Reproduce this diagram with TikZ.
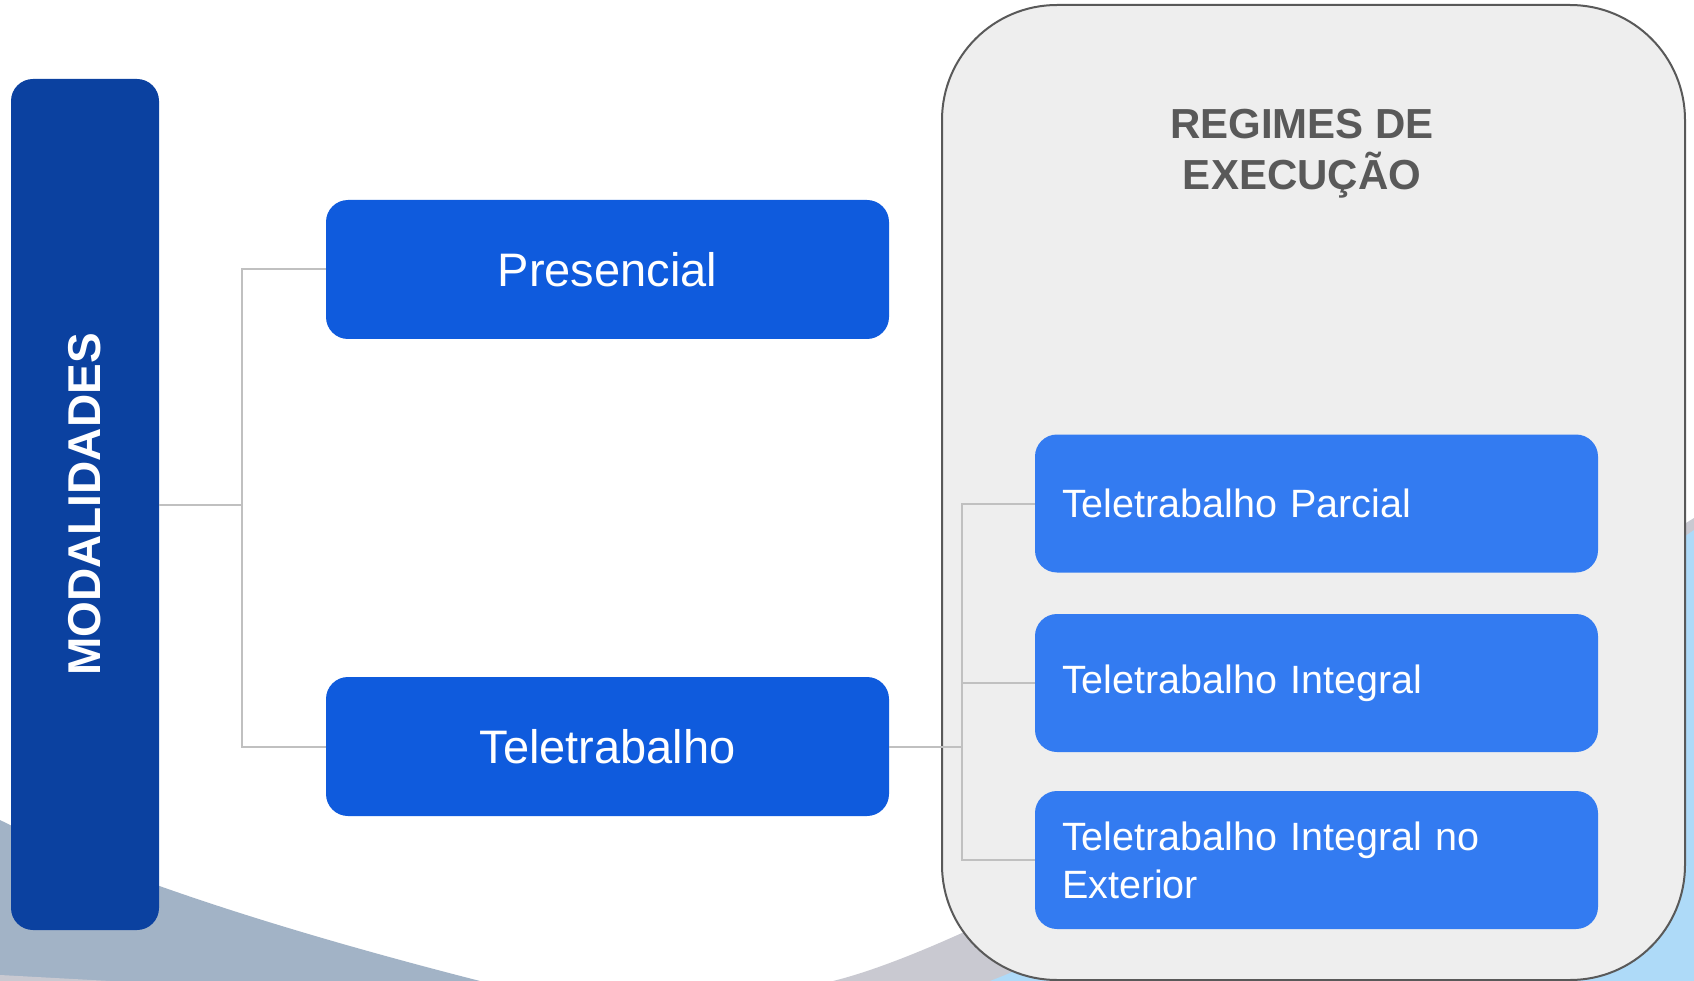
\documentclass[tikz,border=0pt]{standalone}
\usepackage{fontspec}
\setmainfont{Liberation Sans}
\usepackage{graphicx}

\definecolor{azulesc}{HTML}{0B41A0}
\definecolor{azul}{HTML}{0F5BDD}
\definecolor{azulcl}{HTML}{337BF1}
\definecolor{cinzafd}{HTML}{EEEEEE}
\definecolor{cinzabd}{HTML}{595959}
\definecolor{linha}{HTML}{C0C0C0}
\definecolor{onda}{HTML}{A2B3C6}
\definecolor{ondacz}{HTML}{C9C9D1}
\definecolor{ceu}{HTML}{AEDAF8}

\tikzset{
  modbox/.style={fill=azulesc, rounded corners=22pt, minimum width=148pt,
    minimum height=851pt, text=white, inner sep=0pt},
  tipobox/.style={fill=azul, rounded corners=22pt, minimum width=563pt,
    minimum height=139pt, text=white, inner sep=0pt,
    font=\fontsize{47}{56}\selectfont},
  regbox/.style={fill=azulcl, rounded corners=22pt, minimum width=563pt,
    minimum height=138pt, text=white, inner xsep=27pt, inner ysep=0pt,
    text width=509pt, align=left, font=\fontsize{39.5}{48}\selectfont},
  link/.style={draw=linha, line width=2pt},
}

\begin{document}
\begin{tikzpicture}[x=1pt,y=-1pt]
\useasboundingbox (0,0) rectangle (1694,981);

% fundo
\fill[white] (0,0) rectangle (1694,981);
\fill[onda] (0,820) .. controls (120,880) and (300,935) .. (480,981) -- (0,981) -- cycle;
\fill[ondacz] (0,975) -- (110,981) -- (0,981) -- cycle;
\fill[ondacz] (833,981) .. controls (1000,940) and (1400,700) .. (1694,518) -- (1694,981) -- cycle;
\fill[ceu] (990,981) .. controls (1200,900) and (1450,700) .. (1694,530) -- (1694,981) -- cycle;

% regimes
\node[draw=cinzabd, line width=2pt, fill=cinzafd, rounded corners=115pt,
  minimum width=743pt, minimum height=975pt] (regimes) at (1313.5,492.5) {};
\node[text=cinzabd, align=center, font=\bfseries\fontsize{42}{51}\selectfont] (titulo) at (1302,154) {REGIMES DE\\EXECUÇÃO};

\node[modbox] (modal) at (85,504.5) {\rotatebox{90}{\bfseries\fontsize{46}{55}\selectfont MODALIDADES}};
\node[tipobox] (pres) at (607.5,269.5) {Presencial};
\node[tipobox] (tele) at (607.5,746.5) {Teletrabalho};

\node[regbox] (parcial) at (1316.5,503.5) {Teletrabalho Parcial};
\node[regbox] (integral) at (1316.5,683) {Teletrabalho Integral};
\node[regbox] (exterior) at (1316.5,860) {Teletrabalho Integral no\\Exterior};

\coordinate (jl) at (242,504.5);
\coordinate (jr) at (962,746.5);

\draw[link] (modal) -- (jl);
\draw[link] (pres) -| (jl) |- (tele);
\draw[link] (tele) -- (jr);
\draw[link] (parcial) -| (jr) |- (exterior);
\draw[link] (integral) -- (integral -| jr);

\end{tikzpicture}
\end{document}
